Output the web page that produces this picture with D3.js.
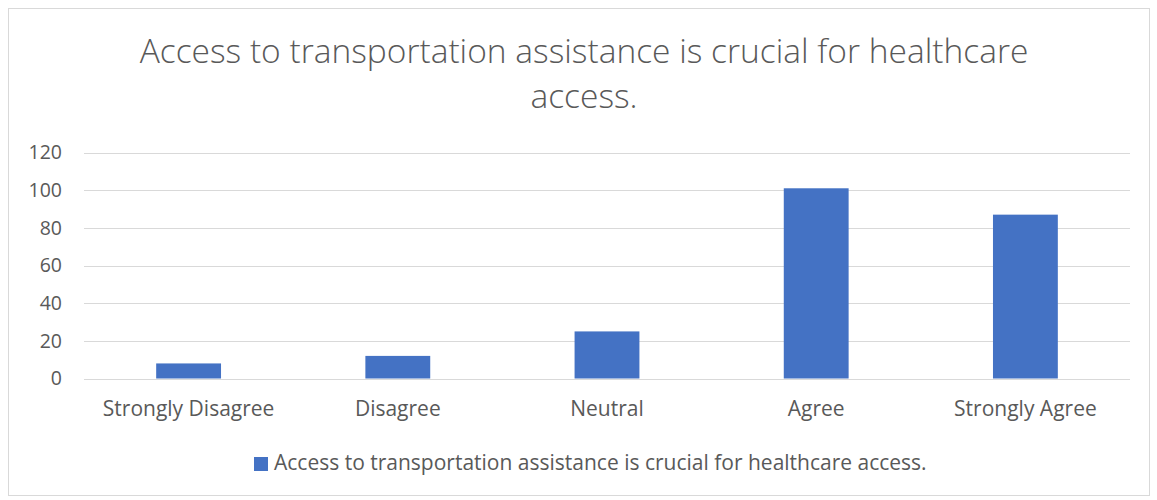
<!DOCTYPE html>
<html><head><meta charset="utf-8">
<script src="https://cdn.jsdelivr.net/npm/d3@7"></script>
<style>body{margin:0;background:#fff}svg{display:block}text{font-family:"Open Sans",Lato,sans-serif;fill:#595959}</style>
</head><body><svg id="c" width="1157" height="500"></svg>
<script>
const categories = ["Strongly Disagree","Disagree","Neutral","Agree","Strongly Agree"];
const values = [8,12,25,101,87];
const yTicks = [0,20,40,60,80,100,120];
const seriesName = "Access to transportation assistance is crucial for healthcare access.";
const titleLines = ["Access to transportation assistance is crucial for healthcare","access."];

(function(){
const FF = "'Open Sans',Lato,sans-serif";
const svg = d3.select("#c");
svg.append("rect").attr("x",8.5).attr("y",8.5).attr("width",1141).attr("height",487)
  .attr("fill","#fff").attr("stroke","#d9d9d9").attr("stroke-width",1);

const pL=84, pR=1130, pT=152.5, pB=378.5;
const x = d3.scaleBand().domain(categories).range([pL,pR]).paddingInner(0.69).paddingOuter(0.345);
const y = d3.scaleLinear().domain([0,120]).range([pB,pT]);

const g = svg.append("g");
g.selectAll("line.grid").data(yTicks).join("line").attr("class","grid")
  .attr("x1",pL).attr("x2",pR).attr("y1",d=>Math.round(y(d))+0.5).attr("y2",d=>Math.round(y(d))+0.5)
  .attr("stroke","#d9d9d9").attr("stroke-width",1);

const yAxis = svg.append("g").attr("transform",`translate(${pL},0)`)
  .call(d3.axisLeft(y).tickValues(yTicks).tickSize(0).tickPadding(22));
yAxis.select(".domain").remove();
yAxis.selectAll("text").attr("font-size",19.5).style("fill","#595959").style("font-family",FF);

g.selectAll("rect.bar").data(values).join("rect").attr("class","bar")
  .attr("x",(d,i)=>x(categories[i])).attr("width",x.bandwidth())
  .attr("y",d=>y(d)).attr("height",d=>pB-y(d)).attr("fill","#4472c4");

const xAxis = svg.append("g").attr("transform",`translate(0,${pB})`)
  .call(d3.axisBottom(x).tickSize(0).tickPadding(23));
xAxis.select(".domain").remove();
xAxis.selectAll("text").attr("font-size",21).style("fill","#595959").style("font-family",FF);

const t = svg.append("text").attr("text-anchor","middle").attr("font-size",33.5).attr("font-weight",300);
titleLines.forEach((l,i)=>t.append("tspan").attr("x",584).attr("y",63+i*45).text(l));

const lg = svg.append("g");
lg.append("rect").attr("x",254).attr("y",457).attr("width",14).attr("height",14).attr("fill","#4472c4");
lg.append("text").attr("x",274).attr("y",470).attr("font-size",21).text(seriesName);
})();
</script></body></html>
